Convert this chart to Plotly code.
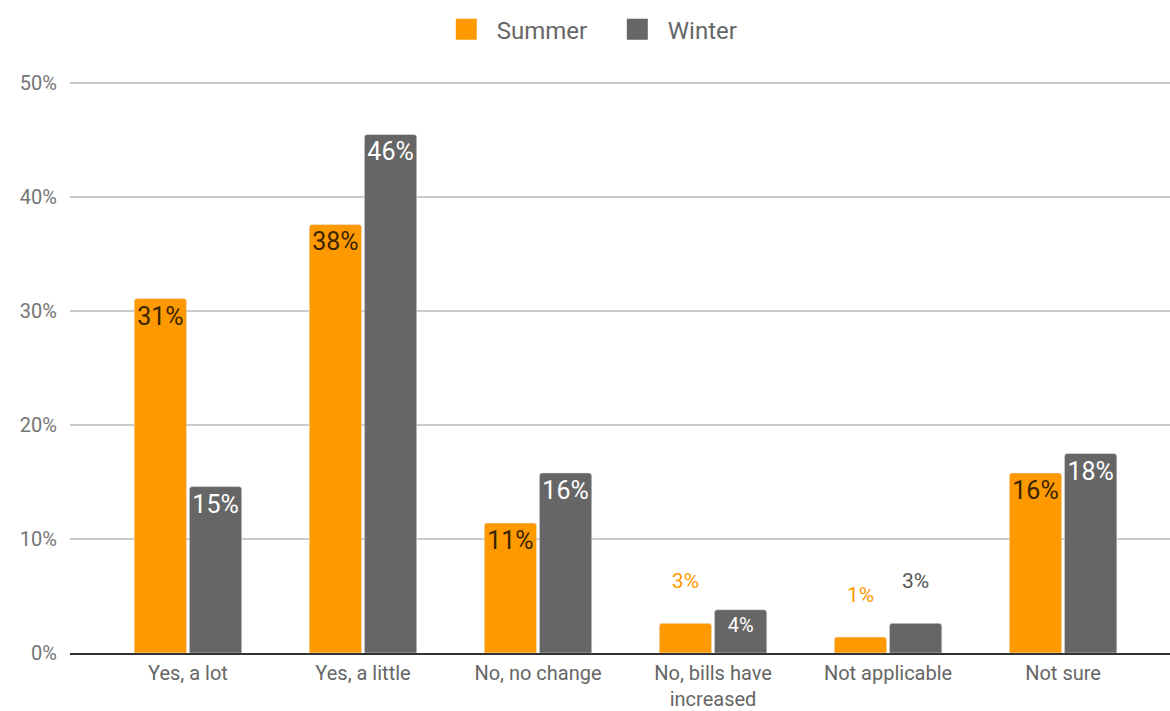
import plotly.graph_objects as go

categories = ["Yes, a lot", "Yes, a little", "No, no change",
              "No, bills have<br>increased", "Not applicable", "Not sure"]
summer = [31.1, 37.6, 11.4, 2.6, 1.4, 15.8]
winter = [14.6, 45.5, 15.8, 3.8, 2.6, 17.5]
summer_labels = ["31%", "38%", "11%", "3%", "1%", "16%"]
winter_labels = ["15%", "46%", "16%", "4%", "3%", "18%"]
summer_pos = ["inside", "inside", "inside", "outside", "outside", "inside"]
winter_pos = ["inside", "inside", "inside", "inside", "outside", "inside"]
y_ticks = [0, 10, 20, 30, 40, 50]

ORANGE = "#FF9900"
GRAY = "#666666"
FONT = "Roboto"


def texts(labels, pos):
    # outside labels sit one line higher, as in the reference
    return [l + "<br> " if p == "outside" else l for l, p in zip(labels, pos)]


def colors(pos, inside_col, outside_col):
    return [outside_col if p == "outside" else inside_col for p in pos]


def sizes(vals, pos):
    out = []
    for v, p in zip(vals, pos):
        if p == "outside":
            out.append(21)
        elif v < 5:
            out.append(20)
        else:
            out.append(25)
    return out


fig = go.Figure()
fig.add_trace(go.Bar(
    x=categories, y=summer, name="Summer", marker=dict(color=ORANGE, cornerradius=3),
    text=texts(summer_labels, summer_pos), textposition=summer_pos, textangle=0,
    insidetextanchor="end", constraintext="none", cliponaxis=False,
    textfont=dict(family=FONT, size=sizes(summer, summer_pos),
                  color=colors(summer_pos, "#3a2400", ORANGE)),
    showlegend=False, hoverinfo="skip",
))
fig.add_trace(go.Bar(
    x=categories, y=winter, name="Winter", marker=dict(color=GRAY, cornerradius=3),
    text=texts(winter_labels, winter_pos), textposition=winter_pos, textangle=0,
    insidetextanchor="end", constraintext="none", cliponaxis=False,
    textfont=dict(family=FONT, size=sizes(winter, winter_pos),
                  color=colors(winter_pos, "#ffffff", "#555555")),
    showlegend=False, hoverinfo="skip",
))
# legend entries
for nm, col in [("Summer", ORANGE), ("Winter", GRAY)]:
    fig.add_trace(go.Scatter(
        x=[None], y=[None], mode="markers", name=nm,
        marker=dict(symbol="square", size=16, color=col,
                    line=dict(color=col, width=5)),
    ))

fig.update_layout(
    width=1170, height=711,
    margin=dict(l=70, r=0, t=82, b=58, autoexpand=False),
    paper_bgcolor="white", plot_bgcolor="white",
    barmode="group", bargap=0.37, bargroupgap=0.05,
    font=dict(family=FONT, color="#666666"),
    legend=dict(orientation="h", x=0.488, xanchor="center", y=0.99, yanchor="top",
                yref="container", font=dict(size=24, color="#666666"),
                itemsizing="trace", traceorder="normal", itemwidth=51,
                entrywidth=105, entrywidthmode="pixels"),
    xaxis=dict(range=[-0.674, 5.611], showgrid=False, showline=True,
               linecolor="#333333", linewidth=2, ticks="",
               ticklabelstandoff=1,
               tickfont=dict(size=20, color="#666666"), fixedrange=True),
    yaxis=dict(range=[0, 50.1], tickvals=y_ticks,
               ticktext=[f"{v}%" for v in y_ticks],
               showgrid=True, gridcolor="#cccccc", gridwidth=1.5,
               zeroline=False, showline=False, ticks="",
               ticklabelstandoff=12,
               tickfont=dict(size=20, color="#757575"), fixedrange=True),
)

fig.write_html("out.html", config={"displayModeBar": False},
               post_script="document.body.style.margin='0';document.body.style.overflow='hidden';")
